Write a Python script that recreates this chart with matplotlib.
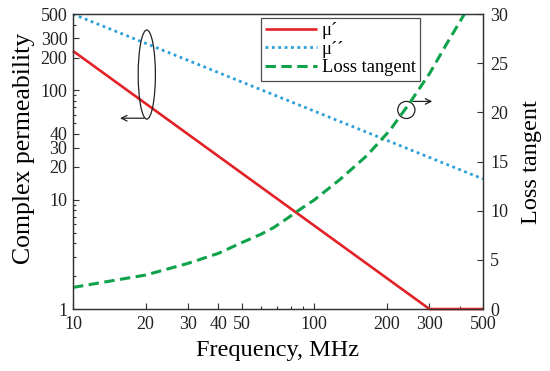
import numpy as np
import matplotlib
matplotlib.use('Agg')
import matplotlib.pyplot as plt
from matplotlib.patches import Ellipse
from matplotlib.ticker import FixedLocator, NullFormatter

plt.rcParams['font.family'] = ['Liberation Serif', 'DejaVu Serif']

# data
f_mu1 = [10, 300, 500]
mu1 = [230, 1, 1]
f_mu2 = [10, 500]
mu2 = [500, 15.5]
f_tan = [10, 20, 30, 40, 50, 60, 68, 77, 88, 100, 128, 165, 206, 249, 301, 354, 421, 440]
tan_d = [2.2, 3.46, 4.65, 5.66, 6.75, 7.6, 8.3, 9.2, 10.2, 11.1, 13.2, 15.6, 18.2, 21.0, 24.0, 27.0, 30.1, 31.2]

x_ticks = [10, 20, 30, 40, 50, 100, 200, 300, 500]
y_ticks = [1, 10, 20, 30, 40, 100, 200, 300, 500]

red = '#e32228'
blue = '#2a9fd8'
green = '#0ea24b'
spine_c = '#333333'

fig = plt.figure(figsize=(5.5, 3.71), dpi=100)
ax = fig.add_axes([0.1327, 0.167, 0.7455, 0.795])
ax2 = ax.twinx()

l1, = ax.plot(f_mu1, mu1, color=red, lw=1.9, solid_capstyle='butt', clip_on=False, zorder=3)
l2, = ax.plot(f_mu2, mu2, color=blue, lw=2.0, linestyle=(0, (1, 1.3)))
l3, = ax2.plot(f_tan, tan_d, color=green, lw=2.2, linestyle=(0, (3.4, 1.8)))

ax.set_xscale('log')
ax.set_yscale('log')
ax.set_xlim(10, 500)
ax.set_ylim(1, 500)
ax2.set_ylim(0, 30)

ax.xaxis.set_major_locator(FixedLocator(x_ticks))
ax.set_xticklabels([str(v) for v in x_ticks])
ax.xaxis.set_minor_locator(FixedLocator([60, 70, 80, 90, 400]))
ax.xaxis.set_minor_formatter(NullFormatter())
ax.yaxis.set_major_locator(FixedLocator(y_ticks))
ax.set_yticklabels([str(v) for v in y_ticks])
ax.yaxis.set_minor_locator(FixedLocator([2, 3, 4, 5, 6, 7, 8, 9, 50, 60, 70, 80, 90, 400]))
ax.yaxis.set_minor_formatter(NullFormatter())
ax2.set_yticks([0, 5, 10, 15, 20, 25, 30])

for a in (ax, ax2):
    a.tick_params(which='both', direction='in', labelsize=13, colors=spine_c,
                  labelcolor='#222222')
    a.tick_params(which='major', length=4, width=0.8)
    a.tick_params(which='minor', length=2.5, width=0.8)
    for s in a.spines.values():
        s.set_color(spine_c)
        s.set_linewidth(0.9)
ax.tick_params(axis='x', pad=5)
ax.tick_params(axis='y', pad=4)
ax2.tick_params(axis='y', pad=5)

ax.set_xlabel('Frequency, MHz', fontsize=17.5, labelpad=5)
ax.set_ylabel('Complex permeability', fontsize=18.5, labelpad=4)
ax.yaxis.label.set_y(0.546)
ax2.set_ylabel('Loss tangent', fontsize=17.5, labelpad=9)

leg = ax.legend([l1, l2, l3], ['μ´', 'μ´´', 'Loss tangent'], loc='upper left',
                bbox_to_anchor=(0.449, 1.0), fontsize=13.3, frameon=True, fancybox=False,
                edgecolor='#222222', handlelength=2.8, handletextpad=0.25,
                borderpad=0.25, labelspacing=0.08, borderaxespad=0.2)
leg.get_frame().set_linewidth(0.9)

# annotations: ellipse + arrow pointing to left axis
ax.add_patch(Ellipse((0.18, 0.795), 0.042, 0.302, transform=ax.transAxes,
                     fill=False, edgecolor='#222222', lw=0.9, zorder=4))
ax.annotate('', xy=(0.108, 0.647), xytext=(0.18, 0.647), xycoords='axes fraction',
            arrowprops=dict(arrowstyle='->', color='#222222', lw=0.9))
# circle + arrow pointing to right axis
ax.add_patch(Ellipse((0.813, 0.675), 0.042, 0.058, transform=ax.transAxes,
                     fill=False, edgecolor='#222222', lw=0.9, zorder=4))
ax.annotate('', xy=(0.883, 0.704), xytext=(0.822, 0.704), xycoords='axes fraction',
            arrowprops=dict(arrowstyle='->', color='#222222', lw=0.9))

fig.savefig('out.png', dpi=100)
